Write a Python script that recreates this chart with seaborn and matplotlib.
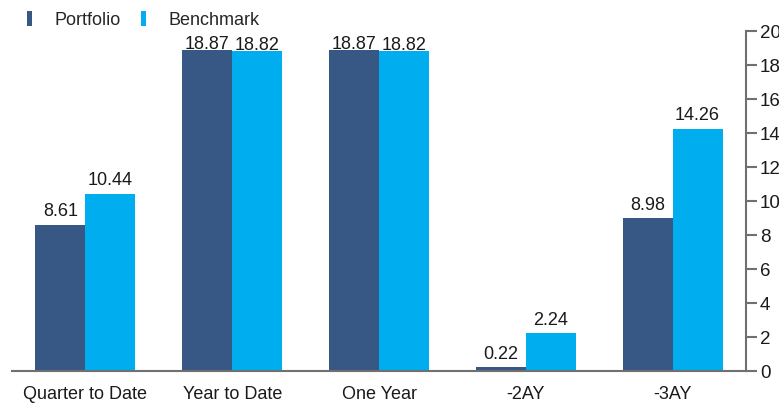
import pandas as pd
import matplotlib
matplotlib.use("Agg")
import matplotlib.pyplot as plt
import seaborn as sns
from matplotlib.patches import Patch

# chart values
periods = ["Quarter to Date", "Year to Date", "One Year", "-2AY", "-3AY"]
portfolio = [8.61, 18.87, 18.87, 0.22, 8.98]
benchmark = [10.44, 18.82, 18.82, 2.24, 14.26]
series = ["Portfolio", "Benchmark"]
colors = ["#375884", "#00ADEE"]
y_ticks = [0, 2, 4, 6, 8, 10, 12, 14, 16, 18, 20]

df = pd.DataFrame({
    "Period": periods * 2,
    "Return": portfolio + benchmark,
    "Series": [series[0]] * len(periods) + [series[1]] * len(periods),
})

sns.set_style("white")
plt.rcParams["font.family"] = ["Liberation Sans", "DejaVu Sans"]
axis_grey = "#707070"
text_col = "#1a1a1a"
fs = 13

fig = plt.figure(figsize=(7.79, 4.03), dpi=100)
ax = fig.add_axes([12 / 779, 1 - 371 / 403, (746 - 12) / 779, (371 - 31) / 403])

sns.barplot(data=df, x="Period", y="Return", hue="Series", order=periods,
            hue_order=series, palette=colors, width=0.68, saturation=1,
            linewidth=0, ax=ax, legend=False)

# labels near the top of the axis get squeezed onto the bar
for cont in ax.containers:
    labels = ax.bar_label(cont, fmt="%.2f", padding=3, fontsize=fs, color=text_col)
    for bar, lab in zip(cont, labels):
        if bar.get_height() >= 18:
            lab.xyann = (0, -2)

ax.set_xlim(-0.5, len(periods) - 0.5)
ax.set_ylim(0, 20)
ax.set_xlabel("")
ax.set_ylabel("")

# y axis on the right
ax.yaxis.tick_right()
ax.set_yticks(y_ticks)
ax.tick_params(axis="y", direction="out", length=8, width=1.5, color=axis_grey,
               labelsize=13.5, labelcolor=text_col, pad=2)

# x axis: separator ticks at boundaries, labels centred
ax.set_xticks([i - 0.5 for i in range(len(periods) + 1)])
ax.set_xticklabels([])
ax.set_xticks(range(len(periods)), minor=True)
ax.set_xticklabels(periods, minor=True)
ax.tick_params(axis="x", which="major", direction="out", length=7, width=1.5,
               color=axis_grey)
ax.tick_params(axis="x", which="minor", length=0, labelsize=fs,
               labelcolor=text_col, pad=11)

for side in ["top", "left"]:
    ax.spines[side].set_visible(False)
for side in ["right", "bottom"]:
    ax.spines[side].set_color(axis_grey)
    ax.spines[side].set_linewidth(1.5)

handles = [Patch(facecolor=c, edgecolor="none", label=s) for c, s in zip(colors, series)]
fig.legend(handles=handles, loc="upper left", bbox_to_anchor=(18 / 779, 0.995),
           ncol=2, frameon=False, fontsize=fs, handlelength=0.25,
           handleheight=0.9, handletextpad=1.25, columnspacing=1.15,
           borderaxespad=0.1)

fig.savefig("out.png", dpi=100)
